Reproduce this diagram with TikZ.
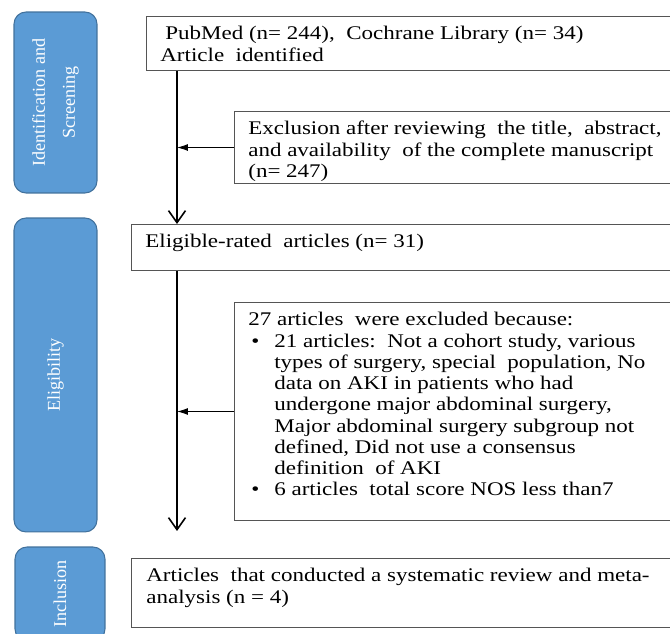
\documentclass[tikz,border=0pt]{standalone}
\usepackage{fontspec}
\setmainfont{Liberation Serif}[FakeStretch=1.19]
\newfontfamily\fuentelateral{Liberation Serif}
\usepackage{xcolor}
\usetikzlibrary{arrows.meta,positioning}
\definecolor{azul}{HTML}{5B9BD5}
\definecolor{azulborde}{HTML}{41719C}
\definecolor{gris}{HTML}{555555}
\newcommand{\punto}{\makebox[0.52cm][l]{\hspace{0.06cm}\textbullet}}
\newcommand{\sangria}{\hspace*{0.52cm}}
\tikzset{
  lateral/.style={draw=azulborde,fill=azul,rounded corners=0.24cm,rotate=90,align=center,text=white,font=\fuentelateral\fontsize{10.3}{17}\selectfont,inner sep=0pt,line width=0.6pt},
  caja/.style={draw=gris,line width=0.6pt,anchor=north west,minimum width=12cm,inner sep=0pt},
  texto/.style={anchor=north west,align=left,inner sep=0pt,font=\fontsize{11}{12.1}\selectfont},
  flecha/.style={-{Straight Barb[length=2.4mm,width=3.4mm]},line width=0.9pt},
  flechagris/.style={-{Latex[length=2.2mm,width=1.4mm]},line width=0.5pt},
}

\begin{document}
\begin{tikzpicture}[x=0.02cm,y=-0.02cm]
  \useasboundingbox (0,0) rectangle (670,634);
  \clip (0,0) rectangle (670,634);
  % fases
  \node[lateral,minimum width=3.62cm,minimum height=1.66cm] (identif) at (55.5,102.5) {Identification and\\Screening};
  \node[lateral,minimum width=6.28cm,minimum height=1.66cm] (eleg) at (55.5,375) {Eligibility};
  \node[lateral,minimum width=1.88cm,minimum height=1.8cm] (inclus) at (60,594) {Inclusion};
  % cajas
  \node[caja,minimum height=1.08cm] (pubmed) at (146,16) {};
  \node[caja,minimum height=1.44cm] (excl) at (234,111) {};
  \node[caja,minimum height=0.92cm] (elegibles) at (131,224) {};
  \node[caja,minimum height=4.36cm] (excluidos) at (234,302) {};
  \node[caja,minimum height=1.38cm] (incluidos) at (131,558) {};
  \node[texto,below right=0.2cm and 0.28cm of pubmed.north west] (tpubmed) {\hspace*{0.1cm}PubMed (n= 244),\ \ Cochrane Library (n= 34)\\Article\ \ identified};
  \node[texto,below right=0.2cm and 0.28cm of excl.north west] (texcl) {Exclusion after reviewing\ \ the title,\ \ abstract,\\and availability\ \ of the complete manuscript\\(n= 247)};
  \node[texto,below right=0.2cm and 0.28cm of elegibles.north west] (telegibles) {Eligible-rated\ \ articles (n= 31)};
  \node[texto,below right=0.2cm and 0.28cm of excluidos.north west] (texcluidos) {27 articles\ \ were excluded because:\\
    \punto 21 articles:\ \ Not a cohort study, various\\
    \sangria types of surgery, special\ \ population, No\\
    \sangria data on AKI in patients who had\\
    \sangria undergone major abdominal surgery,\\
    \sangria Major abdominal surgery subgroup not\\
    \sangria defined, Did not use a consensus\\
    \sangria definition\ \ of AKI\\
    \punto 6 articles\ \ total score NOS less than7};
  \node[texto,below right=0.2cm and 0.3cm of incluidos.north west] (tincluidos) {Articles\ \ that conducted a systematic review and meta-\\analysis (n = 4)};
  % flechas
  \coordinate (eje) at (177,0);
  \coordinate (fin) at (177,531);
  \draw[flecha] (eje |- pubmed.south) -- (eje |- elegibles.north);
  \draw[flecha] (eje |- elegibles.south) -- (fin);
  \draw[flechagris] (excl.west) -- (eje |- excl.west);
  \draw[flechagris] (excluidos.west) -- (eje |- excluidos.west);
\end{tikzpicture}
\end{document}
